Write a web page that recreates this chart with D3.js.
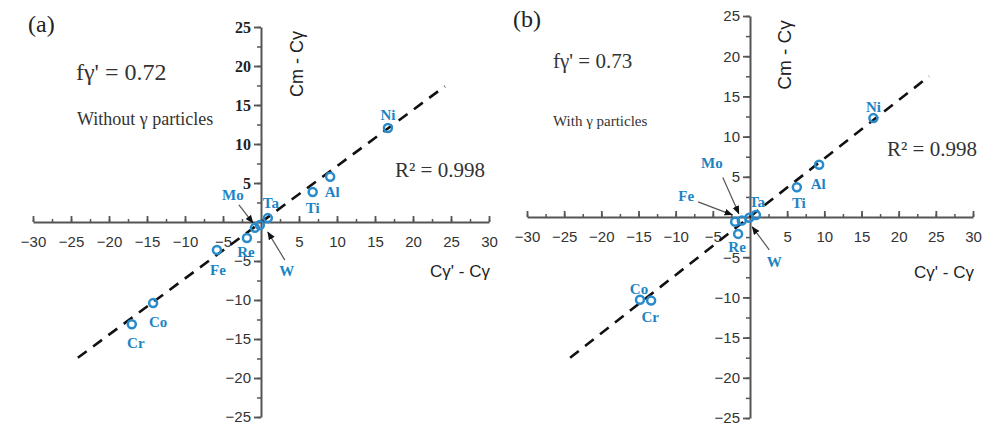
<!DOCTYPE html>
<html><head><meta charset="utf-8">
<script src="https://cdn.jsdelivr.net/npm/d3@7/dist/d3.min.js"></script>
<style>body{margin:0;background:#fff}svg{display:block}</style>
</head><body>
<script>
// ---------- DATA ----------
const elements = ["Ni","Al","Ti","Ta","Mo","W","Re","Fe","Co","Cr"];
// panel (a): without gamma particles
const xA = [16.7, 9.1, 6.8, 0.9, -0.8, -0.15, -1.85, -5.8, -14.2, -17.0];
const yA = [12.05, 5.8, 3.85, 0.5, -0.75, -0.4, -2.05, -3.6, -10.4, -13.1];
// panel (b): with gamma particles
const xB = [16.6, 9.3, 6.3, 0.8, -1.1, -0.1, -1.6, -2.0, -14.8, -13.3];
const yB = [12.3, 6.5, 3.7, 0.25, -0.45, -0.1, -2.1, -0.6, -10.3, -10.4];
// fitted lines (end points in data units)
const fitA = [[-24.1, -17.4], [24.2, 17.4]];
const fitB = [[-24.2, -17.5], [24.1, 17.5]];
const xTicks = [-30,-25,-20,-15,-10,-5,5,10,15,20,25,30];
const yTicks = [25,20,15,10,5,-5,-10,-15,-20,-25];
const minorTicks = d3.range(-30, 30.01, 2.5);
const fA = "fγ' = 0.72", fB = "fγ' = 0.73";
const noteA = "Without γ particles", noteB = "With γ particles";
const r2A = "R² = 0.998", r2B = "R² = 0.998";

// ---------- LAYOUT ----------
const W = 987, H = 425;
const blue = "#2a8bcb", labBlue = "#1d84c4";
const svg = d3.select("body").append("svg").attr("width", W).attr("height", H);
svg.append("rect").attr("width", W).attr("height", H).attr("fill", "#fff");
const defs = svg.append("defs");
defs.append("marker").attr("id","arr").attr("viewBox","0 0 10 10").attr("refX",9).attr("refY",5)
  .attr("markerWidth",7).attr("markerHeight",7).attr("orient","auto-start-reverse")
  .append("path").attr("d","M0,1 L10,5 L0,9 Z").attr("fill","#111");

// label offsets (px) relative to point; arrows: [startDx,startDy,endDx,endDy]
const layoutA = {
  Ni:{dx:0,dy:-8}, Al:{dx:2,dy:20}, Ti:{dx:0,dy:21}, Ta:{dx:3,dy:-10},
  Mo:{dx:-22,dy:-28, arrow:[-16,-23,-2,-5]}, W:{dx:27,dy:51, arrow:[25,35,8,7]},
  Re:{dx:-1,dy:19}, Fe:{dx:1,dy:25}, Co:{dx:5,dy:24}, Cr:{dx:4,dy:24}
};
const layoutB = {
  Ni:{dx:0,dy:-6}, Al:{dx:-1,dy:24}, Ti:{dx:2,dy:21}, Ta:{dx:1,dy:-8},
  Mo:{dx:-30,dy:-53, arrow:[-19,-43,-3,-7]}, Fe:{dx:-49,dy:-21, arrow:[-37,-20,-3,-7]},
  W:{dx:25,dy:49, arrow:[20,32,3,9]},
  Re:{dx:-1,dy:18}, Co:{dx:-1,dy:-6}, Cr:{dx:-1,dy:21}
};

function panel(cfg) {
  const x = d3.scaleLinear().domain([-30, 30]).range(cfg.xr);
  const y = d3.scaleLinear().domain([-25, 25]).range(cfg.yr);
  const g = svg.append("g");
  const x0 = x(0), y0 = y(0);

  // x axis: minor ticks
  g.append("g").attr("transform", `translate(0,${y0})`)
    .call(d3.axisBottom(x).tickValues(minorTicks).tickSize(-3).tickFormat(""))
    .call(s => { s.select(".domain").remove(); s.selectAll("line").attr("stroke","#555").attr("stroke-width",1.5); });
  // x axis major
  const gx = g.append("g").attr("transform", `translate(0,${y0})`)
    .call(d3.axisBottom(x).tickValues(xTicks).tickSize(-6).tickSizeOuter(0).tickPadding(14)
      .tickFormat(d => d3.format("")(d).replace("-", "− ")));
  gx.select(".domain").attr("stroke","#555").attr("stroke-width",2);
  gx.selectAll(".tick line").attr("stroke","#555").attr("stroke-width",1.8);
  gx.selectAll("text").attr("fill","#333").attr("font-family","'Liberation Sans', Arial, sans-serif").attr("font-size",15);

  // y axis minor
  g.append("g").attr("transform", `translate(${x0},0)`)
    .call(d3.axisLeft(y).tickValues(d3.range(-25, 25.01, 2.5)).tickSize(4).tickFormat(""))
    .call(s => { s.select(".domain").remove(); s.selectAll("line").attr("stroke","#555").attr("stroke-width",1.5); });
  const gy = g.append("g").attr("transform", `translate(${x0},0)`)
    .call(d3.axisLeft(y).tickValues(yTicks).tickSize(7).tickSizeOuter(0).tickPadding(3)
      .tickFormat(d => d3.format("")(d).replace("-", "−")));
  gy.select(".domain").attr("stroke","#555").attr("stroke-width",2);
  gy.selectAll(".tick line").attr("stroke","#555").attr("stroke-width",1.8);
  gy.selectAll("text").attr("fill","#333").attr("font-family","'Liberation Sans', Arial, sans-serif").attr("font-size",15);
  if (cfg.boldPos) {
    gy.selectAll(".tick text").filter(d => d > 0)
      .attr("font-family","'Liberation Serif', 'Times New Roman', serif").attr("font-weight","bold").attr("font-size",16).attr("fill","#222");
  }

  // fit line
  g.append("line")
    .attr("x1", x(cfg.fit[0][0])).attr("y1", y(cfg.fit[0][1]))
    .attr("x2", x(cfg.fit[1][0])).attr("y2", y(cfg.fit[1][1]))
    .attr("stroke","#111").attr("stroke-width",2.6).attr("stroke-dasharray","11 8").attr("stroke-linecap","butt");

  const pts = elements.map((e, i) => ({ e, x: cfg.xs[i], y: cfg.ys[i] }));

  // arrows
  pts.forEach(p => {
    const L = cfg.layout[p.e];
    if (L.arrow) {
      const px = x(p.x), py = y(p.y);
      g.append("line").attr("x1", px + L.arrow[0]).attr("y1", py + L.arrow[1])
        .attr("x2", px + L.arrow[2]).attr("y2", py + L.arrow[3])
        .attr("stroke","#555").attr("stroke-width",1.2).attr("marker-end","url(#arr)");
    }
  });

  g.selectAll("circle.pt").data(pts).join("circle").attr("class","pt")
    .attr("cx", d => x(d.x)).attr("cy", d => y(d.y)).attr("r", 4)
    .attr("fill","none").attr("stroke", blue).attr("stroke-width", 2.5);

  g.selectAll("text.lab").data(pts).join("text").attr("class","lab")
    .attr("x", d => x(d.x) + cfg.layout[d.e].dx).attr("y", d => y(d.y) + cfg.layout[d.e].dy)
    .attr("text-anchor","middle").attr("fill", labBlue)
    .attr("font-family","'Liberation Serif', 'Times New Roman', serif").attr("font-weight","bold").attr("font-size",15)
    .text(d => d.e);

  // texts
  const serif = "'Liberation Serif', 'Times New Roman', serif";
  const sans = "'Liberation Sans', Arial, sans-serif";
  g.append("text").attr("x", cfg.tag[0]).attr("y", cfg.tag[1]).attr("font-family", serif).attr("font-size",24).attr("fill","#222").text(cfg.tagText);
  g.append("text").attr("x", cfg.f[0]).attr("y", cfg.f[1]).attr("font-family", serif).attr("font-size",cfg.f[2]).attr("fill","#333").text(cfg.fText);
  g.append("text").attr("x", cfg.note[0]).attr("y", cfg.note[1]).attr("font-family", serif).attr("font-size",cfg.note[2]).attr("fill","#333").text(cfg.noteText);
  g.append("text").attr("x", cfg.r2[0]).attr("y", cfg.r2[1]).attr("font-family", serif).attr("font-size",21).attr("fill","#333").text(cfg.r2Text);
  g.append("text").attr("transform", `translate(${cfg.ylab[0]},${cfg.ylab[1]}) rotate(-90)`)
    .attr("text-anchor","middle").attr("font-family", sans).attr("font-size",cfg.ylab[2]).attr("fill","#222").text("Cm - Cγ");
  g.append("text").attr("x", cfg.xlab[0]).attr("y", cfg.xlab[1]).attr("text-anchor","end")
    .attr("font-family", sans).attr("font-size",17).attr("fill","#222").text("Cγ' - Cγ");
}

panel({ xr:[33,489], yr:[417,27], xs:xA, ys:yA, fit:fitA, layout:layoutA, boldPos:true,
  tag:[28,32], tagText:"(a)", f:[76,80,24], fText:fA, note:[77,125,18], noteText:noteA,
  r2:[395,177], r2Text:r2A, ylab:[303,64,18], xlab:[490,277] });
panel({ xr:[527,973], yr:[418,16], xs:xB, ys:yB, fit:fitB, layout:layoutB, boldPos:false,
  tag:[513,27], tagText:"(b)", f:[553,68,21], fText:fB, note:[553,126,15], noteText:noteB,
  r2:[887,156], r2Text:r2B, ylab:[791,55,19], xlab:[974,278] });
</script>
</body></html>
